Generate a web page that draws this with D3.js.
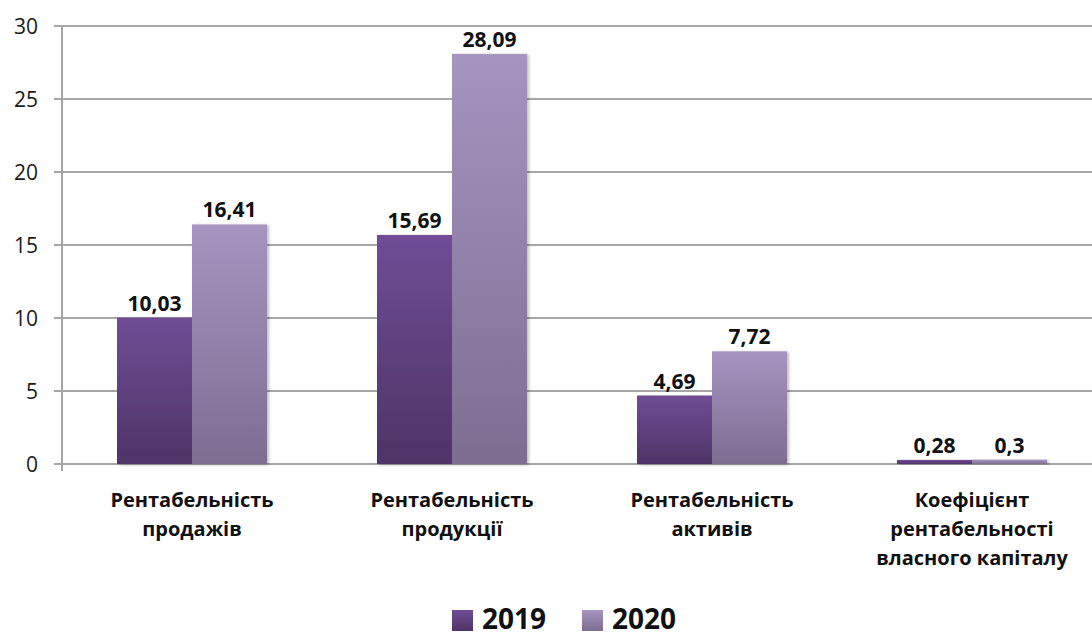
<!DOCTYPE html>
<html><head><meta charset="utf-8">
<script src="https://cdn.jsdelivr.net/npm/d3@7"></script>
<style>body{margin:0;background:#fff}svg{display:block}</style>
</head><body>
<script>
const categories = [["Рентабельність","продажів"],["Рентабельність","продукції"],["Рентабельність","активів"],["Коефіцієнт","рентабельності","власного капіталу"]];
const seriesNames = ["2019","2020"];
const values2019 = [10.03, 15.69, 4.69, 0.28];
const values2020 = [16.41, 28.09, 7.72, 0.3];
const labels2019 = ["10,03","15,69","4,69","0,28"];
const labels2020 = ["16,41","28,09","7,72","0,3"];
const yTicks = [0,5,10,15,20,25,30];

(function(){
const W=1092,H=637;
const svg=d3.select("body").append("svg").attr("width",W).attr("height",H);
const defs=svg.append("defs");
const g1=defs.append("linearGradient").attr("id","g2019").attr("x1",0).attr("y1",0).attr("x2",0).attr("y2",1);
g1.append("stop").attr("offset","0%").attr("stop-color","#6f4d95");
g1.append("stop").attr("offset","100%").attr("stop-color","#4e3467");
const g2=defs.append("linearGradient").attr("id","g2020").attr("x1",0).attr("y1",0).attr("x2",0).attr("y2",1);
g2.append("stop").attr("offset","0%").attr("stop-color","#a694c1");
g2.append("stop").attr("offset","100%").attr("stop-color","#7d6d91");
const sh=defs.append("filter").attr("id","sh").attr("x","-10%").attr("y","-10%").attr("width","130%").attr("height","130%");
sh.append("feDropShadow").attr("dx",2).attr("dy",1).attr("stdDeviation",1.5).attr("flood-color","#000").attr("flood-opacity",0.25);

const pl=62, pr=1102, pt=26, pb=464;
const x=d3.scaleBand().domain(d3.range(categories.length)).range([pl,pr]).paddingInner(0).paddingOuter(0);
const xs=d3.scaleBand().domain(seriesNames).range([0,x.bandwidth()]).paddingInner(0).paddingOuter(55/75);
const y=d3.scaleLinear().domain([0,30]).range([pb,pt]);

svg.append("g").selectAll("line").data(yTicks).join("line")
  .attr("x1",pl-8).attr("x2",W).attr("y1",d=>y(d)).attr("y2",d=>y(d))
  .attr("stroke","#a6a6a6").attr("stroke-width",2);
svg.append("line").attr("x1",pl).attr("x2",pl).attr("y1",pt).attr("y2",pb+7).attr("stroke","#a6a6a6").attr("stroke-width",2);
svg.append("g").selectAll("text").data(yTicks).join("text")
  .attr("x",38).attr("y",d=>y(d)).attr("dy","0.36em").attr("text-anchor","end")
  .attr("font-family","Open Sans, sans-serif").attr("font-size",21).attr("fill","#1a1a1a").text(d=>d);

const data=[];
categories.forEach((c,i)=>{
  data.push({i,s:"2019",v:values2019[i],l:labels2019[i]});
  data.push({i,s:"2020",v:values2020[i],l:labels2020[i]});
});
svg.append("g").selectAll("rect").data(data).join("rect")
  .attr("x",d=>x(d.i)+xs(d.s)).attr("width",xs.bandwidth())
  .attr("y",d=>y(d.v)).attr("height",d=>y(0)-y(d.v))
  .attr("fill",d=>d.s==="2019"?"url(#g2019)":"url(#g2020)").attr("filter","url(#sh)");
svg.append("g").selectAll("text").data(data).join("text")
  .attr("x",d=>x(d.i)+xs(d.s)+xs.bandwidth()/2).attr("y",d=>y(d.v)-7)
  .attr("text-anchor","middle").attr("font-family","Open Sans, sans-serif").attr("font-weight","bold")
  .attr("font-size",21).attr("fill","#111").text(d=>d.l);

const cg=svg.append("g");
categories.forEach((lines,i)=>{
  const t=cg.append("text").attr("text-anchor","middle").attr("font-family","Open Sans, sans-serif")
    .attr("font-weight","bold").attr("font-size",20).attr("fill","#111");
  lines.forEach((ln,k)=>t.append("tspan").attr("x",x(i)+x.bandwidth()/2).attr("y",507+k*29).text(ln));
});

const lg=svg.append("g");
[["2019","g2019",452],["2020","g2020",582]].forEach(([n,gid,lx])=>{
  lg.append("rect").attr("x",lx).attr("y",610).attr("width",21).attr("height",21).attr("fill",`url(#${gid})`);
  lg.append("text").attr("x",lx+30).attr("y",629).attr("font-family","Open Sans, sans-serif").attr("font-weight","bold")
    .attr("font-size",28).attr("fill","#111").text(n);
});
})();
</script>
</body></html>
